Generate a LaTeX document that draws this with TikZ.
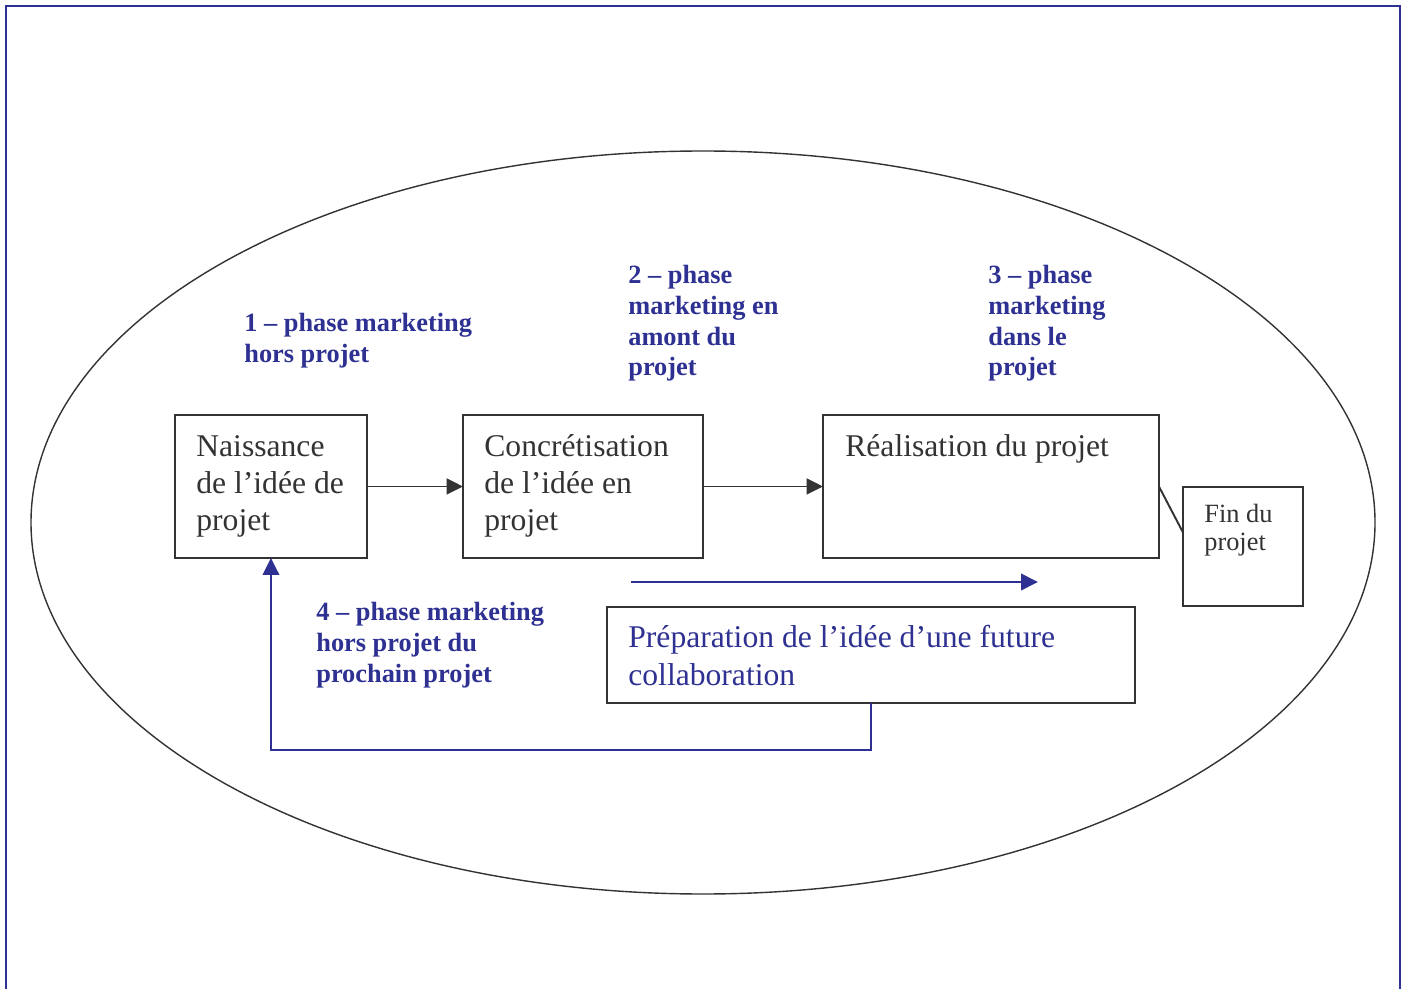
\documentclass[tikz,border=0pt]{standalone}
\usepackage{fontspec}
\setmainfont{Liberation Serif}
\usetikzlibrary{arrows.meta,positioning}
\definecolor{myblue}{RGB}{46,49,146}
\definecolor{mydark}{RGB}{51,51,51}
\tikzset{
  box/.style={draw=mydark, line width=1.1pt, rectangle, anchor=north west, inner sep=0pt, outer sep=0pt},
  boxtext/.style={anchor=north west, inner sep=0pt, align=left, text=mydark, font=\fontsize{18}{21}\selectfont},
  phaselabel/.style={anchor=north west, inner sep=0pt, align=left, text=myblue, font=\bfseries\fontsize{15}{17.5}\selectfont},
  darrow/.style={draw=mydark, line width=1.1pt, -{Triangle[length=0.33cm,width=0.32cm]}},
  barrow/.style={draw=myblue, line width=1.1pt, -{Triangle[length=0.34cm,width=0.33cm]}},
}
\begin{document}
\begin{tikzpicture}[x=0.02cm,y=-0.02cm]
\useasboundingbox (0,0) rectangle (1406,989);
% frame
\draw[myblue, line width=1.2pt] (6,989) -- (6,6) -- (1400,6) -- (1400,989);
% ellipse
\draw[mydark, line width=0.8pt] (703,522.5) ellipse [x radius=672, y radius=371.5];
% boxes
\node[box, minimum width=3.84cm, minimum height=2.86cm] (naiss) at (175,415) {};
\node[box, minimum width=4.8cm, minimum height=2.86cm] (concr) at (463,415) {};
\node[box, minimum width=6.72cm, minimum height=2.86cm] (real) at (823,415) {};
\node[box, minimum width=2.4cm, minimum height=2.38cm] (fin) at (1183,487) {};
\node[box, minimum width=10.56cm, minimum height=1.92cm] (prep) at (607,607) {};
% box texts
\node[boxtext] (tnaiss) at (196,435) {Naissance\\de l’idée de\\projet};
\node[boxtext] (tconcr) at (484,434) {Concrétisation\\de l’idée en\\projet};
\node[boxtext] (treal) at (845,434) {Réalisation du projet};
\node[boxtext, font=\fontsize{15}{16}\selectfont] (tfin) at (1204,504) {Fin du\\projet};
\node[boxtext, text=myblue, font=\fontsize{18}{21.5}\selectfont] (tprep) at (628,625) {Préparation de l’idée d’une future\\collaboration};
% phase labels
\node[phaselabel] (p1) at (244,313) {1 – phase marketing\\hors projet};
\node[phaselabel] (p2) at (628,265) {2 – phase\\marketing en\\amont du\\projet};
\node[phaselabel] (p3) at (988,265) {3 – phase\\marketing\\dans le\\projet};
\node[phaselabel] (p4) at (316,602) {4 – phase marketing\\hors projet du\\prochain projet};
% connectors
\draw[darrow] (naiss.east) -- (concr.west);
\draw[darrow] (concr.east) -- (real.west);
\draw[draw=mydark, line width=1.1pt] (real.east) -- ([yshift=0.28cm]fin.west);
\coordinate (bs) at (631,582);
\coordinate (be) at (1038,582);
\draw[barrow] (bs) -- (be);
\draw[barrow] (prep.south) -- ++(0,47) -| (naiss.south);
\end{tikzpicture}
\end{document}
